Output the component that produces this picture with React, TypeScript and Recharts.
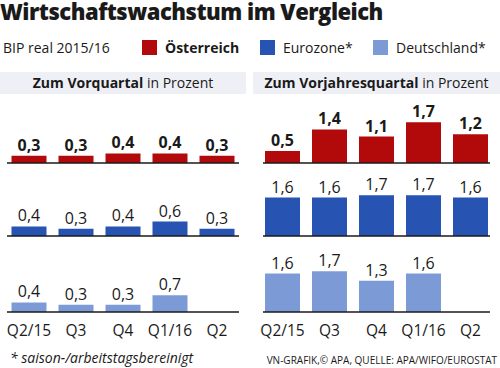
import React from 'react';
import { BarChart, Bar, XAxis, YAxis, LabelList } from 'recharts';

const quarters = ['Q2/15', 'Q3', 'Q4', 'Q1/16', 'Q2'];
const atQoQ = [0.3, 0.3, 0.4, 0.4, 0.3];
const ezQoQ = [0.4, 0.3, 0.4, 0.6, 0.3];
const deQoQ: (number | null)[] = [0.4, 0.3, 0.3, 0.7, null];
const atYoY = [0.5, 1.4, 1.1, 1.7, 1.2];
const ezYoY = [1.6, 1.6, 1.7, 1.7, 1.6];
const deYoY: (number | null)[] = [1.6, 1.7, 1.3, 1.6, null];

const seriesNames = ['Österreich', 'Eurozone*', 'Deutschland*'];
const seriesColors = ['#b20a0a', '#2753b3', '#7c9bd6'];

const FONT = '"Open Sans", "Noto Sans", sans-serif';
const PLOT_H = 63;
const DOMAIN_MAX = PLOT_H / 24;

const fmt = (v: any) => (v === null || v === undefined ? '' : String(v).replace('.', ','));

type RowProps = {
  values: (number | null)[];
  color: string;
  bold: boolean;
  showTicks: boolean;
  left: number;
  top: number;
  width: number;
  mLeft: number;
  mRight: number;
  pad: number;
};

function Row({ values, color, bold, showTicks, left, top, width, mLeft, mRight, pad }: RowProps) {
  const data = quarters.map((q, i) => ({ q, v: values[i] }));
  const axisH = showTicks ? 30 : 2;
  return (
    <div style={{ position: 'absolute', left, top }}>
      <BarChart
        width={width}
        height={PLOT_H + axisH}
        data={data}
        margin={{ top: 0, right: mRight, bottom: 0, left: mLeft }}
        barSize={35}
      >
        <YAxis hide domain={[0, DOMAIN_MAX]} allowDataOverflow />
        <XAxis
          dataKey="q"
          height={axisH}
          axisLine={{ stroke: '#1a1a1a', strokeWidth: 1.6 }}
          tickLine={false}
          tickSize={0}
          tickMargin={13}
          padding={{ left: pad, right: pad }}
          interval={0}
          tick={showTicks ? { fill: '#1a1a1a', fontSize: 15.5, fontFamily: FONT } : false}
        />
        <Bar dataKey="v" fill={color} isAnimationActive={false}>
          <LabelList
            dataKey="v"
            position="top"
            offset={5}
            formatter={fmt}
            style={{ fill: '#1a1a1a', fontSize: 16, fontFamily: FONT, fontWeight: bold ? 700 : 400 }}
          />
        </Bar>
      </BarChart>
    </div>
  );
}

export default function App() {
  const rowTops = [163 - PLOT_H, 236 - PLOT_H, 311.5 - PLOT_H];
  const leftSeries = [atQoQ, ezQoQ, deQoQ];
  const rightSeries = [atYoY, ezYoY, deYoY];
  return (
    <div
      style={{
        position: 'absolute',
        left: 0,
        top: 0,
        width: 500,
        height: 368,
        background: '#fff',
        fontFamily: FONT,
        color: '#1a1a1a',
        overflow: 'hidden',
      }}
    >
      <div
        style={{
          position: 'absolute',
          left: 0,
          top: -4,
          fontSize: 22,
          lineHeight: '30px',
          fontWeight: 800,
          letterSpacing: -0.5,
          whiteSpace: 'nowrap',
        }}
      >
        Wirtschaftswachstum im Vergleich
      </div>

      <div style={{ position: 'absolute', left: 3, top: 38, fontSize: 14, whiteSpace: 'nowrap' }}>
        BIP real 2015/16
      </div>
      {seriesNames.map((n, i) => {
        const sx = [142, 260, 373][i];
        return (
          <React.Fragment key={n}>
            <div
              style={{ position: 'absolute', left: sx, top: 40, width: 15, height: 15, background: seriesColors[i] }}
            />
            <div
              style={{
                position: 'absolute',
                left: sx + 23,
                top: 38,
                fontSize: 14,
                fontWeight: i === 0 ? 700 : 400,
                whiteSpace: 'nowrap',
              }}
            >
              {n}
            </div>
          </React.Fragment>
        );
      })}

      <div
        style={{
          position: 'absolute',
          left: 0,
          top: 72,
          width: 246,
          height: 22,
          background: '#eef0f6',
          textAlign: 'center',
          fontSize: 14,
          lineHeight: '22px',
          whiteSpace: 'nowrap',
        }}
      >
        <b>Zum Vorquartal</b> in Prozent
      </div>
      <div
        style={{
          position: 'absolute',
          left: 253,
          top: 72,
          width: 247,
          height: 22,
          background: '#eef0f6',
          textAlign: 'center',
          fontSize: 14,
          lineHeight: '22px',
          whiteSpace: 'nowrap',
        }}
      >
        <b>Zum Vorjahresquartal</b> in Prozent
      </div>

      {leftSeries.map((s, i) => (
        <Row
          key={'l' + i}
          values={s}
          color={seriesColors[i]}
          bold={i === 0}
          showTicks={i === 2}
          left={0}
          top={rowTops[i]}
          width={249}
          mLeft={7}
          mRight={10}
          pad={-1.5}
        />
      ))}
      {rightSeries.map((s, i) => (
        <Row
          key={'r' + i}
          values={s}
          color={seriesColors[i]}
          bold={i === 0}
          showTicks={i === 2}
          left={250}
          top={rowTops[i]}
          width={250}
          mLeft={13}
          mRight={10}
          pad={-4}
        />
      ))}

      <div
        style={{
          position: 'absolute',
          left: 10,
          top: 348,
          fontSize: 14,
          fontStyle: 'italic',
          whiteSpace: 'nowrap',
        }}
      >
        * saison-/arbeitstagsbereinigt
      </div>
      <div
        style={{
          position: 'absolute',
          right: 3,
          top: 353,
          fontSize: 10,
          whiteSpace: 'nowrap',
        }}
      >
        VN-GRAFIK,© APA, QUELLE: APA/WIFO/EUROSTAT
      </div>
    </div>
  );
}
